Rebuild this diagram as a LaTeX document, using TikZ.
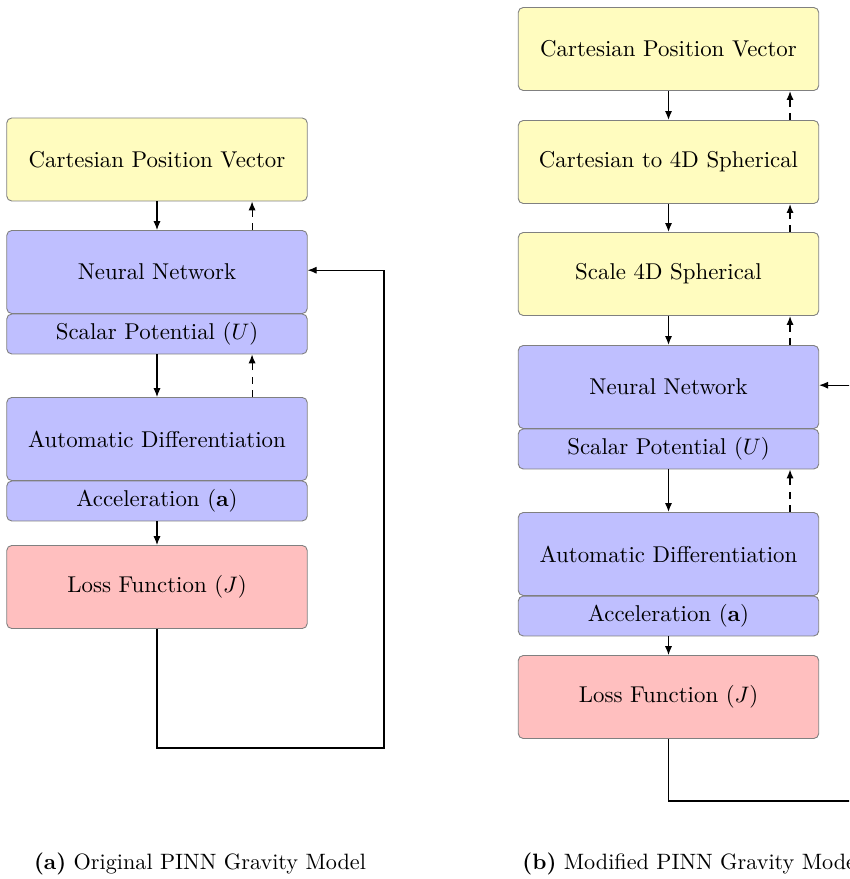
\documentclass[tikz,border=0pt]{standalone}
\usepackage{tikz}
\usepackage{xcolor}
\usetikzlibrary{arrows.meta}

\tikzset{
	block/.style={draw=black!50, rounded corners=2.2pt, minimum width=134pt, minimum height=37pt, inner sep=0pt, font=\fontsize{10.2}{12}\selectfont},
	subblock/.style={block, minimum height=17.8pt},
	inputblock/.style={block, fill=yellow!25},
	netblock/.style={block, fill=blue!25},
	netsub/.style={subblock, fill=blue!25},
	lossblock/.style={block, fill=red!25},
	flow/.style={-{Latex[length=4pt,width=3.2pt]}},
	backflow/.style={flow, dashed},
	caption/.style={inner sep=0pt, font=\fontsize{9.9}{12}\selectfont}
}

\begin{document}
		\begin{tikzpicture}[x=0.446pt, y=-0.446pt]
			\clip (0,0) rectangle (849,879);
			\node[inputblock] (a-cpv) at (157,159.5) {Cartesian Position Vector};
			\node[netblock] (a-nn) at (157,272) {Neural Network};
			\node[netsub] (a-pot) at (157,334) {Scalar Potential ($U$)};
			\node[netblock] (a-ad) at (157,439) {Automatic Differentiation};
			\node[netsub] (a-acc) at (157,501) {Acceleration ($\mathbf{a}$)};
			\node[lossblock] (a-loss) at (157,587) {Loss Function ($J$)};
			\coordinate (a-turn) at (384,748);
			\begin{scope}[line width=0.5pt]
				\draw[flow] (a-cpv) -- (a-nn);
				\draw[backflow] ([xshift=42.4pt]a-nn.north) -- ([xshift=42.4pt]a-cpv.south);
				\draw[flow] (a-pot) -- (a-ad);
				\draw[backflow] ([xshift=42.4pt]a-ad.north) -- ([xshift=42.4pt]a-pot.south);
				\draw[flow] (a-acc) -- (a-loss);
				\draw[flow] (a-loss.south) |- (a-turn) |- ([yshift=0.8pt]a-nn.east);
			\end{scope}
			\node[caption] (a-cap) at (200,864) {\textbf{(a)} Original PINN Gravity Model};

			\node[inputblock] (b-cpv) at (668.5,49) {Cartesian Position Vector};
			\node[inputblock] (b-sph) at (668.5,162) {Cartesian to 4D Spherical};
			\node[inputblock] (b-scale) at (668.5,274) {Scale 4D Spherical};
			\node[netblock] (b-nn) at (668.5,387) {Neural Network};
			\node[netsub] (b-pot) at (668.5,449) {Scalar Potential ($U$)};
			\node[netblock] (b-ad) at (668.5,554) {Automatic Differentiation};
			\node[netsub] (b-acc) at (668.5,616) {Acceleration ($\mathbf{a}$)};
			\node[lossblock] (b-loss) at (668.5,697) {Loss Function ($J$)};
			\coordinate (b-turn) at (900,801);
			\begin{scope}[line width=0.7pt]
				\draw[flow] (b-cpv) -- (b-sph);
				\draw[backflow] ([xshift=54.2pt]b-sph.north) -- ([xshift=54.2pt]b-cpv.south);
				\draw[flow] (b-sph) -- (b-scale);
				\draw[backflow] ([xshift=54.2pt]b-scale.north) -- ([xshift=54.2pt]b-sph.south);
				\draw[flow] (b-scale) -- (b-nn);
				\draw[backflow] ([xshift=54.2pt]b-nn.north) -- ([xshift=54.2pt]b-scale.south);
				\draw[flow] (b-pot) -- (b-ad);
				\draw[backflow] ([xshift=54.2pt]b-ad.north) -- ([xshift=54.2pt]b-pot.south);
			\end{scope}
			\begin{scope}[line width=0.5pt]
				\draw[flow] (b-acc) -- (b-loss);
				\draw[flow] (b-loss.south) |- (b-turn) |- ([yshift=0.8pt]b-nn.east);
			\end{scope}
			\node[caption, anchor=west] (b-cap) at (522,864) {\textbf{(b)} Modified PINN Gravity Model};
		\end{tikzpicture}
\end{document}
